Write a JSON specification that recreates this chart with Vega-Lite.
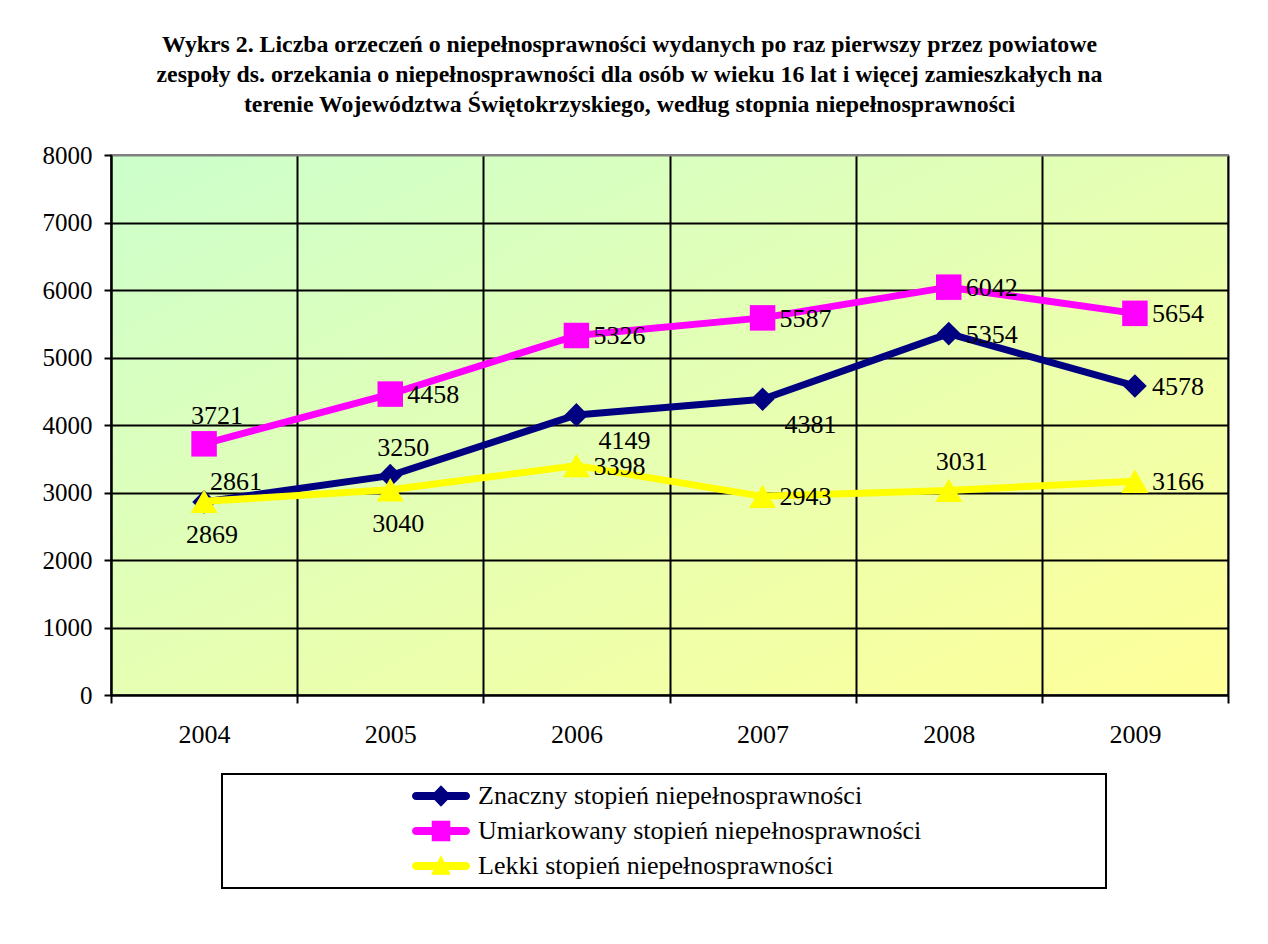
{
  "$schema": "https://vega.github.io/schema/vega-lite/v6.json",
  "width": 1117,
  "height": 540,
  "autosize": {"type": "none"},
  "padding": {"left": 111, "top": 155, "right": 40, "bottom": 249},
  "background": "white",
  "title": {
    "text": [
      "Wykrs 2. Liczba orzeczeń o niepełnosprawności wydanych po raz pierwszy przez powiatowe",
      "zespoły ds. orzekania o niepełnosprawności  dla osób w wieku 16 lat i więcej zamieszkałych na",
      "terenie Województwa Świętokrzyskiego, według stopnia niepełnosprawności"
    ],
    "font": "Liberation Serif",
    "fontSize": 23.8,
    "fontWeight": "bold",
    "color": "black",
    "lineHeight": 30,
    "anchor": "middle",
    "frame": "group",
    "dx": -40,
    "offset": 26
  },
  "data": {
    "values": [
      {"year": "2004", "series": "Znaczny stopień niepełnosprawności", "value": 2861},
      {"year": "2005", "series": "Znaczny stopień niepełnosprawności", "value": 3250},
      {"year": "2006", "series": "Znaczny stopień niepełnosprawności", "value": 4149},
      {"year": "2007", "series": "Znaczny stopień niepełnosprawności", "value": 4381},
      {"year": "2008", "series": "Znaczny stopień niepełnosprawności", "value": 5354},
      {"year": "2009", "series": "Znaczny stopień niepełnosprawności", "value": 4578},
      {"year": "2004", "series": "Umiarkowany stopień niepełnosprawności", "value": 3721},
      {"year": "2005", "series": "Umiarkowany stopień niepełnosprawności", "value": 4458},
      {"year": "2006", "series": "Umiarkowany stopień niepełnosprawności", "value": 5326},
      {"year": "2007", "series": "Umiarkowany stopień niepełnosprawności", "value": 5587},
      {"year": "2008", "series": "Umiarkowany stopień niepełnosprawności", "value": 6042},
      {"year": "2009", "series": "Umiarkowany stopień niepełnosprawności", "value": 5654},
      {"year": "2004", "series": "Lekki stopień niepełnosprawności", "value": 2869},
      {"year": "2005", "series": "Lekki stopień niepełnosprawności", "value": 3040},
      {"year": "2006", "series": "Lekki stopień niepełnosprawności", "value": 3398},
      {"year": "2007", "series": "Lekki stopień niepełnosprawności", "value": 2943},
      {"year": "2008", "series": "Lekki stopień niepełnosprawności", "value": 3031},
      {"year": "2009", "series": "Lekki stopień niepełnosprawności", "value": 3166}
    ]
  },
  "encoding": {
    "x": {
      "field": "year",
      "type": "nominal",
      "scale": {"type": "band", "paddingInner": 0, "paddingOuter": 0},
      "axis": {
        "title": null,
        "labelAngle": 0,
        "tickBand": "extent",
        "labelFont": "Liberation Serif",
        "labelFontSize": 26,
        "labelColor": "black",
        "labelPadding": 18,
        "tickSize": 8,
        "tickColor": "black",
        "tickWidth": 2,
        "domainColor": "black",
        "domainWidth": 2,
        "grid": true,
        "gridColor": "black",
        "gridWidth": 2,
        "zindex": 0
      }
    },
    "y": {
      "field": "value",
      "type": "quantitative",
      "scale": {"domain": [0, 8000], "nice": false},
      "axis": {
        "title": null,
        "format": "d",
        "values": [0, 1000, 2000, 3000, 4000, 5000, 6000, 7000, 8000],
        "labelFont": "Liberation Serif",
        "labelFontSize": 25,
        "labelColor": "black",
        "labelPadding": 12,
        "tickSize": 7,
        "tickColor": "black",
        "tickWidth": 2,
        "domainColor": "black",
        "domainWidth": 2,
        "grid": true,
        "gridColor": {"condition": {"test": "datum.value === 8000", "value": "#808080"}, "value": "black"},
        "gridWidth": 2,
        "zindex": 0
      }
    }
  },
  "layer": [
    {
      "transform": [{"filter": "datum.series === 'Znaczny stopień niepełnosprawności'"}],
      "mark": {"type": "line", "strokeWidth": 7, "strokeJoin": "round", "color": "#000080"}
    },
    {
      "transform": [{"filter": "datum.series === 'Znaczny stopień niepełnosprawności'"}],
      "mark": {"type": "point", "shape": "diamond", "filled": true, "opacity": 1, "size": 560, "color": "#000080"}
    },
    {
      "transform": [{"filter": "datum.series === 'Umiarkowany stopień niepełnosprawności'"}],
      "mark": {"type": "line", "strokeWidth": 7, "strokeJoin": "round", "color": "#ff00ff"}
    },
    {
      "transform": [{"filter": "datum.series === 'Umiarkowany stopień niepełnosprawności'"}],
      "mark": {"type": "point", "shape": "square", "filled": true, "opacity": 1, "size": 650, "color": "#ff00ff"}
    },
    {
      "transform": [{"filter": "datum.series === 'Lekki stopień niepełnosprawności'"}],
      "mark": {"type": "line", "strokeWidth": 7, "strokeJoin": "round", "color": "#ffff00"}
    },
    {
      "transform": [{"filter": "datum.series === 'Lekki stopień niepełnosprawności'"}],
      "mark": {"type": "point", "shape": "triangle-up", "filled": true, "opacity": 1, "size": 729, "color": "#ffff00"}
    },
    {
      "mark": {"type": "point", "filled": true, "opacity": 0},
      "encoding": {
        "color": {
          "field": "series",
          "type": "nominal",
          "scale": {
            "domain": ["Znaczny stopień niepełnosprawności", "Umiarkowany stopień niepełnosprawności", "Lekki stopień niepełnosprawności"],
            "range": ["#000080", "#ff00ff", "#ffff00"]
          },
          "legend": {
            "orient": "none",
            "legendX": 111,
            "legendY": 619,
            "direction": "vertical",
            "strokeColor": "black",
            "fillColor": "white",
            "padding": 8,
            "title": ".",
            "titleOrient": "right",
            "titleFontSize": 1,
            "titleColor": "rgba(0,0,0,0)",
            "titlePadding": 176,
            "labelFont": "Liberation Serif",
            "labelFontSize": 26,
            "labelColor": "black",
            "symbolOffset": 182,
            "labelOffset": 8,
            "labelLimit": 2000,
            "symbolSize": 3364,
            "symbolOpacity": 1,
            "symbolStrokeWidth": 0,
            "clipHeight": 28,
            "rowPadding": 7
          }
        },
        "shape": {
          "field": "series",
          "type": "nominal",
          "scale": {
            "domain": ["Znaczny stopień niepełnosprawności", "Umiarkowany stopień niepełnosprawności", "Lekki stopień niepełnosprawności"],
            "range": [
              "M-0.86,-0.14L0.86,-0.14A0.14,0.14 0 0 1 0.86,0.14L-0.86,0.14A0.14,0.14 0 0 1 -0.86,-0.14Z M0,-0.37L0.36,0L0,0.37L-0.36,0Z",
              "M-0.86,-0.14L0.86,-0.14A0.14,0.14 0 0 1 0.86,0.14L-0.86,0.14A0.14,0.14 0 0 1 -0.86,-0.14Z M-0.32,-0.35L0.32,-0.35L0.32,0.35L-0.32,0.35Z",
              "M-0.86,-0.14L0.86,-0.14A0.14,0.14 0 0 1 0.86,0.14L-0.86,0.14A0.14,0.14 0 0 1 -0.86,-0.14Z M0,-0.38L0.34,0.3L-0.34,0.3Z"
            ]
          },
          "legend": {
            "orient": "none",
            "legendX": 111,
            "legendY": 619,
            "direction": "vertical",
            "strokeColor": "black",
            "fillColor": "white",
            "padding": 8,
            "title": ".",
            "titleOrient": "right",
            "titleFontSize": 1,
            "titleColor": "rgba(0,0,0,0)",
            "titlePadding": 176,
            "labelFont": "Liberation Serif",
            "labelFontSize": 26,
            "labelColor": "black",
            "symbolOffset": 182,
            "labelOffset": 8,
            "labelLimit": 2000,
            "symbolSize": 3364,
            "symbolOpacity": 1,
            "symbolStrokeWidth": 0,
            "clipHeight": 28,
            "rowPadding": 7
          }
        }
      }
    },
    {
      "transform": [{"filter": "indexof(['Z2008','Z2009','U2005','U2006','U2007','U2008','U2009','L2006','L2007','L2009'], substring(datum.series,0,1) + datum.year) >= 0"}],
      "mark": {"type": "text", "font": "Liberation Serif", "fontSize": 26, "color": "black", "align": "left", "baseline": "alphabetic", "dx": 17, "dy": 9},
      "encoding": {"text": {"field": "value", "type": "quantitative", "format": "d"}}
    },
    {
      "transform": [{"filter": "indexof(['U2004','Z2005','L2008'], substring(datum.series,0,1) + datum.year) >= 0"}],
      "mark": {"type": "text", "font": "Liberation Serif", "fontSize": 26, "color": "black", "align": "center", "baseline": "alphabetic", "dx": 13, "dy": -20},
      "encoding": {"text": {"field": "value", "type": "quantitative", "format": "d"}}
    },
    {
      "transform": [{"filter": "indexof(['L2004','L2005'], substring(datum.series,0,1) + datum.year) >= 0"}],
      "mark": {"type": "text", "font": "Liberation Serif", "fontSize": 26, "color": "black", "align": "center", "baseline": "alphabetic", "dx": 8, "dy": 42},
      "encoding": {"text": {"field": "value", "type": "quantitative", "format": "d"}}
    },
    {
      "transform": [{"filter": "indexof(['Z2006','Z2007'], substring(datum.series,0,1) + datum.year) >= 0"}],
      "mark": {"type": "text", "font": "Liberation Serif", "fontSize": 26, "color": "black", "align": "left", "baseline": "alphabetic", "dx": 22, "dy": 34},
      "encoding": {"text": {"field": "value", "type": "quantitative", "format": "d"}}
    },
    {
      "transform": [{"filter": "indexof(['Z2004'], substring(datum.series,0,1) + datum.year) >= 0"}],
      "mark": {"type": "text", "font": "Liberation Serif", "fontSize": 26, "color": "black", "align": "left", "baseline": "alphabetic", "dx": 6, "dy": -12},
      "encoding": {"text": {"field": "value", "type": "quantitative", "format": "d"}}
    }
  ],
  "config": {
    "legend": {"strokeWidth": 2},
    "view": {
      "stroke": "#808080",
      "strokeWidth": 2,
      "fill": {
        "gradient": "linear",
        "x1": 0, "y1": 0, "x2": 1, "y2": 1,
        "stops": [
          {"offset": 0, "color": "#ccffcc"},
          {"offset": 1, "color": "#ffff99"}
        ]
      }
    }
  }
}
